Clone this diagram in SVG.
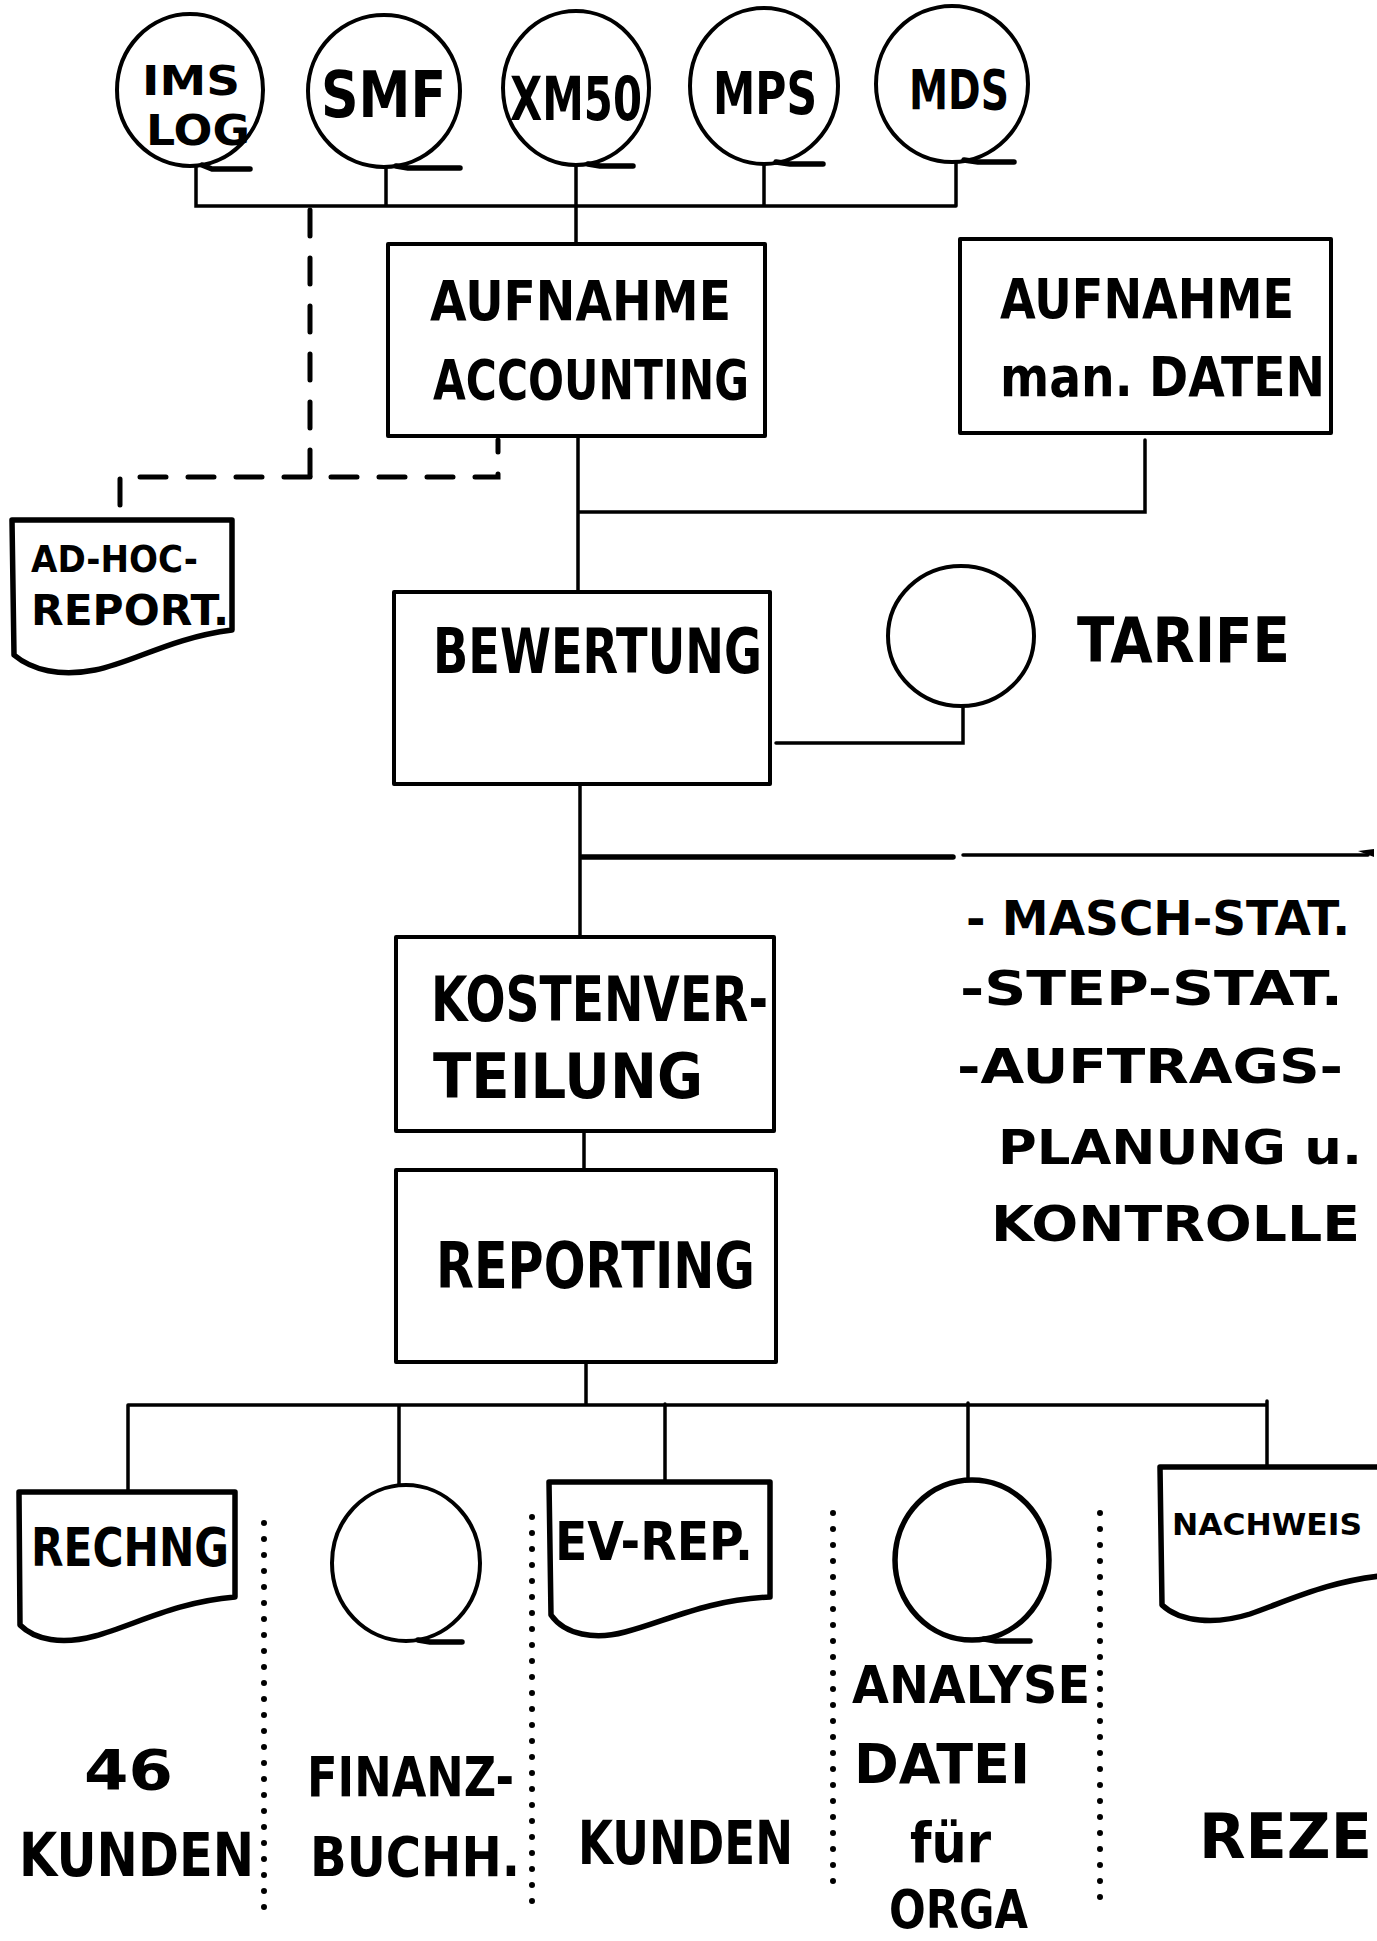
<svg xmlns="http://www.w3.org/2000/svg" width="1377" height="1941" viewBox="0 0 1377 1941">
<defs>
<style>
.bg{fill:#fff}
.shape{fill:none;stroke:#000;stroke-width:4;stroke-linejoin:round;stroke-linecap:round}
.thick{fill:none;stroke:#000;stroke-width:5.5;stroke-linejoin:round;stroke-linecap:round}
.line{fill:none;stroke:#000;stroke-width:3.5;stroke-linecap:round}
.dash{fill:none;stroke:#000;stroke-width:5;stroke-dasharray:26 22;stroke-linecap:round}
.dots{fill:none;stroke:#000;stroke-width:6;stroke-dasharray:0 16;stroke-linecap:round}
text{font-family:"DejaVu Sans","Liberation Sans",sans-serif;font-weight:bold;fill:#000}
</style>
</defs>
<rect class="bg" x="0" y="0" width="1377" height="1941"/>

<g id="connectors">
  <path class="line" d="M196,167 V206 H956 M386,167 V206 M764,165 V206 M956,163 V206 M576,165 V244"/>
  <path class="dash" d="M310,210 V477 H498 V440"/>
  <path class="dash" d="M310,477 H120 V520"/>
  <path class="line" d="M578,436 V592 M578,512 H1145 V440"/>
  <path class="line" d="M776,743 H963 V706"/>
  <path class="line" d="M580,784 V937"/>
  <path class="thick" d="M582,857 H953"/>
  <path class="line" d="M963,855 H1368"/>
  <path d="M1358,851 L1374,849 L1374,857 Z" fill="#000"/>
  <path class="line" d="M584,1131 V1170"/>
  <path class="line" d="M586,1362 V1403 M128,1405 H1267 M128,1405 V1492 M399,1405 V1485 M665,1404 V1482 M968,1403 V1480 M1267,1401 V1467"/>
  <path class="dots" d="M264,1523 V1913"/>
  <path class="dots" d="M532,1517 V1907"/>
  <path class="dots" d="M833,1513 V1895"/>
  <path class="dots" d="M1100,1513 V1901"/>
</g>

<g id="ims-log">
  <ellipse class="shape" cx="190" cy="90" rx="73" ry="76"/>
  <path class="thick" d="M202,165 L212,169 H250"/>
  <text x="142" y="95" font-size="40" textLength="98" lengthAdjust="spacingAndGlyphs">IMS</text>
  <text x="146" y="145" font-size="42" textLength="104" lengthAdjust="spacingAndGlyphs">LOG</text>
</g>
<g id="smf">
  <ellipse class="shape" cx="384" cy="91" rx="76" ry="76"/>
  <path class="thick" d="M396,166 L408,168 H460"/>
  <text x="321" y="117" font-size="64" textLength="125" lengthAdjust="spacingAndGlyphs">SMF</text>
</g>
<g id="xm50">
  <ellipse class="shape" cx="576" cy="88" rx="73" ry="77"/>
  <path class="thick" d="M588,164 L600,166 H633"/>
  <text x="510" y="120" font-size="60" textLength="132" lengthAdjust="spacingAndGlyphs">XM50</text>
</g>
<g id="mps">
  <ellipse class="shape" cx="764" cy="86" rx="74" ry="78"/>
  <path class="thick" d="M776,162 L790,164 H823"/>
  <text x="713" y="114" font-size="58" textLength="104" lengthAdjust="spacingAndGlyphs">MPS</text>
</g>
<g id="mds">
  <ellipse class="shape" cx="952" cy="84" rx="76" ry="78"/>
  <path class="thick" d="M964,160 L978,162 H1014"/>
  <text x="909" y="109" font-size="56" textLength="100" lengthAdjust="spacingAndGlyphs">MDS</text>
</g>

<g id="aufnahme-accounting">
  <rect class="shape" x="388" y="244" width="377" height="192"/>
  <text x="430" y="320" font-size="55" textLength="301" lengthAdjust="spacingAndGlyphs">AUFNAHME</text>
  <text x="433" y="399" font-size="55" textLength="316" lengthAdjust="spacingAndGlyphs">ACCOUNTING</text>
</g>
<g id="aufnahme-daten">
  <rect class="shape" x="960" y="239" width="371" height="194"/>
  <text x="1000" y="318" font-size="55" textLength="294" lengthAdjust="spacingAndGlyphs">AUFNAHME</text>
  <text x="1000" y="396" font-size="55" textLength="325" lengthAdjust="spacingAndGlyphs">man. DATEN</text>
</g>
<g id="ad-hoc-report">
  <path class="thick" d="M12,520 H232 V630 C170,638 135,662 95,670 C60,677 32,670 14,655 Z"/>
  <text x="31" y="572" font-size="38" textLength="167" lengthAdjust="spacingAndGlyphs">AD-HOC-</text>
  <text x="31" y="625" font-size="42" textLength="198" lengthAdjust="spacingAndGlyphs">REPORT.</text>
</g>
<g id="bewertung">
  <rect class="shape" x="394" y="592" width="376" height="192"/>
  <text x="433" y="673" font-size="62" textLength="329" lengthAdjust="spacingAndGlyphs">BEWERTUNG</text>
</g>
<g id="tarife">
  <ellipse class="shape" cx="961" cy="636" rx="73" ry="70"/>
  <text x="1077" y="662" font-size="62" textLength="213" lengthAdjust="spacingAndGlyphs">TARIFE</text>
</g>
<g id="statistik">
  <text x="966" y="935" font-size="48" textLength="384" lengthAdjust="spacingAndGlyphs">- MASCH-STAT.</text>
  <text x="960" y="1005" font-size="48" textLength="383" lengthAdjust="spacingAndGlyphs">-STEP-STAT.</text>
  <text x="957" y="1083" font-size="48" textLength="386" lengthAdjust="spacingAndGlyphs">-AUFTRAGS-</text>
  <text x="998" y="1164" font-size="48" textLength="364" lengthAdjust="spacingAndGlyphs">PLANUNG u.</text>
  <text x="991" y="1241" font-size="50" textLength="369" lengthAdjust="spacingAndGlyphs">KONTROLLE</text>
</g>
<g id="kostenverteilung">
  <rect class="shape" x="396" y="937" width="378" height="194"/>
  <text x="431" y="1021" font-size="62" textLength="337" lengthAdjust="spacingAndGlyphs">KOSTENVER-</text>
  <text x="433" y="1098" font-size="62" textLength="270" lengthAdjust="spacingAndGlyphs">TEILUNG</text>
</g>
<g id="reporting">
  <rect class="shape" x="396" y="1170" width="380" height="192"/>
  <text x="436" y="1288" font-size="64" textLength="319" lengthAdjust="spacingAndGlyphs">REPORTING</text>
</g>

<g id="rechng">
  <path class="thick" d="M19,1492 H235 V1597 C175,1602 135,1625 95,1636 C62,1645 35,1640 20,1625 Z"/>
  <text x="31" y="1566" font-size="54" textLength="198" lengthAdjust="spacingAndGlyphs">RECHNG</text>
</g>
<g id="finanz-datei">
  <ellipse class="shape" cx="406" cy="1563" rx="74" ry="78"/>
  <path class="thick" d="M418,1640 L430,1642 H462"/>
</g>
<g id="ev-rep">
  <path class="thick" d="M549,1482 H770 V1597 C705,1600 665,1622 625,1632 C595,1640 565,1635 551,1615 Z"/>
  <text x="555" y="1560" font-size="54" textLength="198" lengthAdjust="spacingAndGlyphs">EV-REP.</text>
</g>
<g id="analyse-datei">
  <ellipse class="thick" cx="972" cy="1560" rx="77" ry="80"/>
  <path class="thick" d="M984,1639 L996,1641 H1030"/>
</g>
<g id="nachweis">
  <path class="thick" d="M1160,1467 H1390 V1575 C1330,1580 1290,1600 1250,1614 C1215,1625 1180,1622 1162,1605 Z"/>
  <text x="1172" y="1535" font-size="31" textLength="190" lengthAdjust="spacingAndGlyphs">NACHWEIS</text>
</g>

<g id="labels">
  <text x="84" y="1789" font-size="56" textLength="89" lengthAdjust="spacingAndGlyphs">46</text>
  <text x="19" y="1876" font-size="60" textLength="235" lengthAdjust="spacingAndGlyphs">KUNDEN</text>
  <text x="307" y="1796" font-size="56" textLength="207" lengthAdjust="spacingAndGlyphs">FINANZ-</text>
  <text x="310" y="1876" font-size="56" textLength="210" lengthAdjust="spacingAndGlyphs">BUCHH.</text>
  <text x="578" y="1864" font-size="60" textLength="215" lengthAdjust="spacingAndGlyphs">KUNDEN</text>
  <text x="852" y="1703" font-size="52" textLength="238" lengthAdjust="spacingAndGlyphs">ANALYSE</text>
  <text x="854" y="1783" font-size="56" textLength="176" lengthAdjust="spacingAndGlyphs">DATEI</text>
  <text x="910" y="1862" font-size="56" textLength="81" lengthAdjust="spacingAndGlyphs">für</text>
  <text x="889" y="1928" font-size="54" textLength="139" lengthAdjust="spacingAndGlyphs">ORGA</text>
  <text x="1199" y="1858" font-size="62" textLength="173" lengthAdjust="spacingAndGlyphs">REZE</text>
</g>
</svg>
